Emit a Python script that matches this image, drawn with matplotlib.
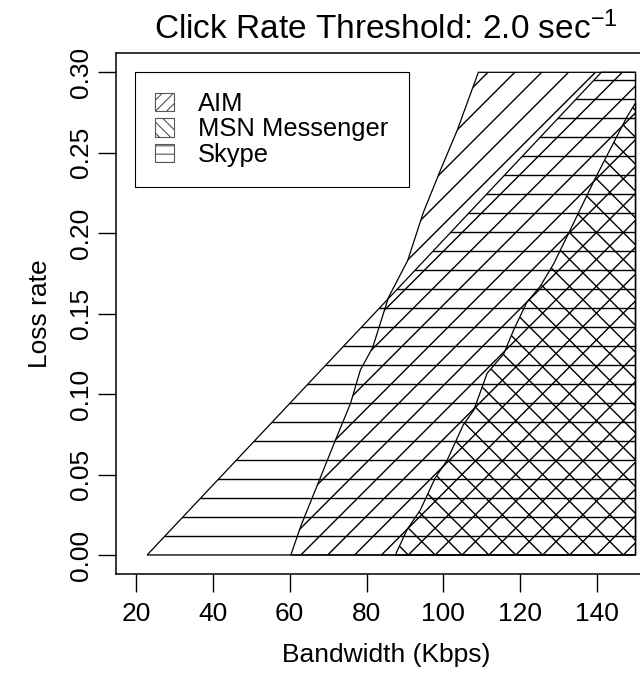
import numpy as np
import matplotlib
matplotlib.use('Agg')
import matplotlib.pyplot as plt
from matplotlib.patches import Polygon, Patch
from matplotlib.collections import LineCollection

plt.rcParams['font.family'] = ['Liberation Sans', 'DejaVu Sans']
plt.rcParams['mathtext.fontset'] = 'custom'
plt.rcParams['mathtext.rm'] = 'Liberation Sans'
plt.rcParams['mathtext.it'] = 'Liberation Sans:italic'
plt.rcParams['mathtext.bf'] = 'Liberation Sans:bold'
plt.rcParams['hatch.linewidth'] = 0.8

# region boundaries: bandwidth (Kbps) vs loss rate
aim_bw = [60.3, 62.9, 67.8, 72.0, 75.8, 78.4, 81.6, 85.7, 90.7, 93.3, 94.8, 99.2, 103.6, 109.1]
aim_loss = [0.0, 0.018, 0.047, 0.072, 0.094, 0.115, 0.129, 0.160, 0.183, 0.202, 0.213, 0.239, 0.264, 0.30]

msn_bw = [87.5, 90.6, 94.0, 97.9, 101.0, 105.2, 107.9, 111.4, 115.7, 118.3, 121.7, 125.2,
          128.7, 133.0, 139.5, 147.7, 150.0]
msn_loss = [0.0, 0.016, 0.028, 0.048, 0.059, 0.081, 0.090, 0.113, 0.125, 0.140, 0.157, 0.167,
            0.181, 0.202, 0.234, 0.272, 0.281]

skype_bw = [22.9, 141.1]
skype_loss = [0.0, 0.30]

bw_max = 150
loss_max = 0.30
names = ['AIM', 'MSN Messenger', 'Skype']


def outline(bw, loss):
    pts = list(zip(bw, loss))
    if bw[-1] < bw_max:
        pts.append((bw_max, loss[-1]))
    pts.append((bw_max, 0.0))
    return pts


def add_hatch(ax, patch, angle, spacing=19.0, anchor=(62.9, 0.0)):
    # R style hatch: lines with fixed pixel spacing, clipped to the polygon
    tr = ax.transData
    x0, y0 = tr.transform(anchor)
    L = 2000
    segs = []
    for k in range(-60, 60):
        if angle == 0:
            y = y0 + k * spacing
            seg = [(x0 - L, y), (x0 + L, y)]
        else:
            s = 1 if angle == 45 else -1
            x = x0 + k * spacing * np.sqrt(2)
            seg = [(x - L, y0 - s * L), (x + L, y0 + s * L)]
        segs.append(tr.inverted().transform(seg))
    lc = LineCollection(segs, colors='black', linewidths=1.0)
    lc.set_clip_path(patch)
    ax.add_collection(lc, autolim=False)


fig = plt.figure(figsize=(6.4, 6.77), dpi=100)
ax = fig.add_axes([116 / 640, 1 - 574.3 / 677, 539.5 / 640, (574.3 - 53) / 677])
ax.set_xlim(14.8, 155.2)
ax.set_ylim(-0.012, 0.312)

regions = [(aim_bw, aim_loss, 45), (msn_bw, msn_loss, -45), (skype_bw, skype_loss, 0)]
for bw, loss, ang in regions:
    p = Polygon(outline(bw, loss), closed=True, facecolor='none', edgecolor='black', lw=0.9)
    ax.add_patch(p)
    add_hatch(ax, p, ang)

ax.set_xticks(range(20, 141, 20))
ax.set_yticks(np.arange(0, 0.31, 0.05))
ax.set_yticklabels([f'{v:.2f}' for v in np.arange(0, 0.31, 0.05)])
ax.tick_params(length=13, width=1.0, labelsize=19, pad=7)
ax.tick_params(axis='y', labelrotation=90, pad=3.5)
for lab in ax.get_yticklabels():
    lab.set_va('center')
for sp in ax.spines.values():
    sp.set_linewidth(1.1)

ax.set_xlabel('Bandwidth (Kbps)', fontsize=19, labelpad=12)
ax.set_ylabel('Loss rate', fontsize=19, labelpad=12)
ax.set_title('Click Rate Threshold: 2.0 sec$^{-1}$', fontsize=24, pad=10)

handles = [Patch(facecolor='white', edgecolor='#555555', hatch=h, lw=0.8)
           for h in ['///', '\\\\\\', '--']]
leg = ax.legend(handles, names, loc='upper left', bbox_to_anchor=(135 / 640, 1 - 71.7 / 677),
                bbox_transform=fig.transFigure, borderaxespad=0, fontsize=18.4,
                handlelength=0.74, handleheight=0.72, handletextpad=0.93,
                labelspacing=0.05, borderpad=0.8, fancybox=False, framealpha=1,
                edgecolor='black')
leg.get_frame().set_linewidth(0.8)

fig.savefig('out.png', dpi=100)
